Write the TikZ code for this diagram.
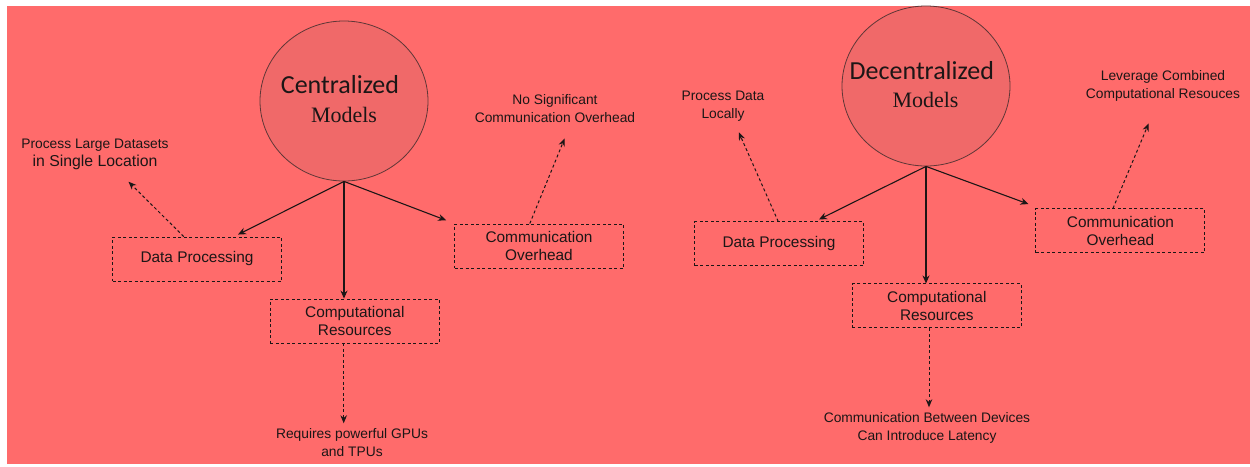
\documentclass[tikz,border=0pt]{standalone}
\usepackage{fontspec}
\setmainfont{Liberation Sans}
\newfontfamily\titlefont{Carlito}
\newfontfamily\seriffont{Liberation Serif}
\usetikzlibrary{arrows.meta,shapes.geometric}
\definecolor{bgsalmon}{RGB}{255,107,107}
\definecolor{circfill}{RGB}{240,105,105}
\definecolor{circline}{RGB}{95,55,55}
\definecolor{ink}{RGB}{28,22,22}
\begin{document}
\begin{tikzpicture}[x=1pt,y=-1pt,
  box/.style={draw=ink, dash pattern=on 3pt off 2.5pt, line width=0.9pt, minimum width=169pt, minimum height=44pt, inner sep=0pt, align=center, font=\fontsize{15.4}{18}\selectfont, text=ink},
  model/.style={ellipse, draw=circline, fill=circfill, line width=0.8pt, minimum width=168pt, minimum height=160pt, inner sep=0pt},
  note/.style={align=center, text=ink, inner sep=0pt, font=\fontsize{13.8}{18}\selectfont},
  title/.style={anchor=base, inner sep=0pt, text=ink, font=\titlefont\fontsize{26}{30}\selectfont},
  sub/.style={anchor=base, inner sep=0pt, text=ink, font=\seriffont\fontsize{22}{26}\selectfont},
  link/.style={draw=ink, line width=1.1pt, -{Stealth[length=8pt,width=7pt]}},
  hint/.style={draw=ink, line width=1pt, dash pattern=on 3pt off 2.5pt, -{Stealth[length=8pt,width=6.5pt]}},
]
\useasboundingbox (0,0) rectangle (1250,466);
\fill[white] (0,0) rectangle (1250,466);
\fill[bgsalmon] (7,6) rectangle (1250,464);

% ---------- Centralized ----------
\node[model] (Lc) at (344,101) {};
\node[title] (Lt1) at (340,93) {Centralized};
\node[sub] (Lt2) at (344,122) {Models};

\node[box] (LDP) at (197,259) {Data Processing};
\node[box] (LCO) at (539,246) {Communication\\Overhead};
\node[box] (LCR) at (354.8,321) {Computational\\Resources};

\node[note] (LnDP) at (95,154.5) {Process Large Datasets\\\fontsize{15.8}{18}\selectfont in Single Location};
\node[note] (LnCO) at (555,109) {No Significant\\Communication Overhead};
\node[note] (LnCR) at (352,442.5) {Requires powerful GPUs\\and TPUs};

\coordinate (LeDP) at (128.5,181.7);
\coordinate (LeCO) at (564.7,138.3);
\coordinate (LeCR) at (343.7,423.3);

\draw[link] (Lc.south) -- ([xshift=41pt,yshift=2pt]LDP.north);
\draw[link] (Lc.south) -- (Lc.south |- LCR.north);
\draw[link] (Lc.south) -- ([shift={(-8pt,3.3pt)}]LCO.north west);

\draw[hint] ([xshift=-13.3pt]LDP.north) -- (LeDP);
\draw[hint] ([xshift=-9.2pt]LCO.north) -- (LeCO);
\draw[hint] ([xshift=-11.1pt]LCR.south) -- (LeCR);

% ---------- Decentralized ----------
\node[model] (Rc) at (926,86) {};
\node[title] (Rt1) at (921.8,79.3) {Decentralized};
\node[sub] (Rt2) at (925.5,107.3) {Models};

\node[box] (RDP) at (779,243.9) {Data Processing};
\node[box] (RCO) at (1120.4,230.8) {Communication\\Overhead};
\node[box] (RCR) at (936.8,305.9) {Computational\\Resources};

\node[note] (RnDP) at (723,106) {Process Data\\Locally};
\node[note] (RnCO) at (1163,86.3) {Leverage Combined\\Computational Resouces};
\node[note] (RnCR) at (927,427.7) {Communication Between Devices\\Can Introduce Latency};

\coordinate (ReDP) at (738.8,132.3);
\coordinate (ReCO) at (1148.7,123.3);
\coordinate (ReCR) at (929,407.3);

\draw[link] (Rc.south) -- ([xshift=40pt,yshift=2pt]RDP.north);
\draw[link] (Rc.south) -- (Rc.south |- RCR.north);
\draw[link] (Rc.south) -- ([shift={(-7pt,4.3pt)}]RCO.north west);

\draw[hint] ([xshift=-0.8pt]RDP.north) -- (ReDP);
\draw[hint] ([xshift=-7.4pt]RCO.north) -- (ReCO);
\draw[hint] ([xshift=-7.8pt]RCR.south) -- (ReCR);
\end{tikzpicture}
\end{document}
